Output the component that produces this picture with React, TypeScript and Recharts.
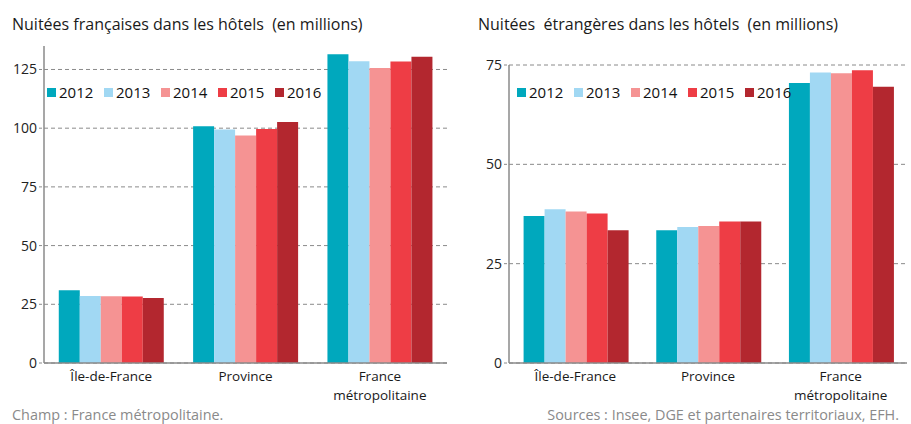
import React from 'react';
import { BarChart, Bar, XAxis, YAxis, CartesianGrid, Legend } from 'recharts';

const categories = ['Île-de-France', 'Province', 'France\nmétropolitaine'];
const years = ['2012', '2013', '2014', '2015', '2016'];
const colors = ['#00A8BD', '#A1D8F3', '#F59393', '#EE3D45', '#B3272F'];

const fr2012 = [31.0, 100.8, 131.5];
const fr2013 = [28.5, 99.4, 128.5];
const fr2014 = [28.4, 96.9, 125.6];
const fr2015 = [28.3, 99.6, 128.4];
const fr2016 = [27.7, 102.6, 130.4];

const et2012 = [37.0, 33.4, 70.5];
const et2013 = [38.7, 34.2, 73.1];
const et2014 = [38.1, 34.5, 72.9];
const et2015 = [37.6, 35.6, 73.7];
const et2016 = [33.4, 35.6, 69.5];

const frTicks = [0, 25, 50, 75, 100, 125];
const etTicks = [0, 25, 50, 75];

const build = (series: number[][]) =>
  categories.map((c, i) => {
    const row: any = { cat: c };
    years.forEach((y, j) => (row[y] = series[j][i]));
    return row;
  });

const frData = build([fr2012, fr2013, fr2014, fr2015, fr2016]);
const etData = build([et2012, et2013, et2014, et2015, et2016]);

const FONT = '"Open Sans", "Noto Sans", sans-serif';

const CatTick = (props: any) => {
  const { x, y, payload } = props;
  const lines = String(payload.value).split('\n');
  return (
    <text x={x} y={y + 10} textAnchor="middle" fontSize={13.5} fill="#1a1a1a" fontFamily={FONT}>
      {lines.map((l, i) => (
        <tspan key={i} x={x} dy={i === 0 ? 0 : 18.5}>
          {l}
        </tspan>
      ))}
    </text>
  );
};

const LegendContent = () => (
  <div style={{ display: 'flex', fontFamily: FONT, fontSize: 15, color: '#111' }}>
    {years.map((y, i) => (
      <div key={y} style={{ display: 'flex', alignItems: 'center', width: 57 }}>
        <div style={{ width: 9, height: 9, background: colors[i], marginRight: 3 }} />
        <span>{y}</span>
      </div>
    ))}
  </div>
);

const Chart = (props: { data: any[]; ticks: number[]; max: number; top: number; yWidth: number; right: number; legendLeft: number; width: number }) => (
  <BarChart
    width={props.width}
    height={424}
    data={props.data}
    margin={{ top: props.top, right: props.right, left: 0, bottom: 21 }}
    barCategoryGap="11%"
    barGap={0}
  >
    <CartesianGrid vertical={false} horizontalValues={props.ticks} stroke="#8a8a8a" strokeDasharray="4 3" />
    <XAxis
      dataKey="cat"
      height={40}
      tick={<CatTick />}
      tickLine={false}
      axisLine={{ stroke: '#8a8a8a', strokeWidth: 1.5 }}
      interval={0}
    />
    <YAxis
      type="number"
      width={props.yWidth}
      domain={[0, props.max]}
      ticks={props.ticks}
      tick={{ fontSize: 14, fill: '#222', fontFamily: FONT }}
      tickLine={{ stroke: '#8a8a8a', strokeDasharray: '3 2' }}
      tickSize={5}
      axisLine={{ stroke: '#8a8a8a', strokeWidth: 1.5 }}
    />
    <Legend
      layout="vertical"
      verticalAlign="middle"
      align="center"
      content={<LegendContent />}
      wrapperStyle={{ position: 'absolute', top: 82, left: props.legendLeft, width: 300 }}
    />
    {years.map((y, i) => (
      <Bar key={y} dataKey={y} fill={colors[i]} isAnimationActive={false} />
    ))}
  </BarChart>
);

export default function App() {
  return (
    <div style={{ position: 'absolute', left: 0, top: 0, width: 911, height: 424, background: '#fff', overflow: 'hidden' }}>
      <div style={{ position: 'absolute', left: 0, top: 0 }}>
        <Chart data={frData} ticks={frTicks} max={135} top={46} yWidth={44} right={8} legendLeft={47} width={455} />
      </div>
      <div style={{ position: 'absolute', left: 455, top: 0 }}>
        <Chart data={etData} ticks={etTicks} max={75} top={65} yWidth={54} right={4} legendLeft={62} width={456} />
      </div>
      <div style={{ position: 'absolute', left: 12, top: 13, fontFamily: FONT, fontSize: 16, color: '#1a1a1a', whiteSpace: 'pre' }}>
        {'Nuitées françaises dans les hôtels  (en millions)'}
      </div>
      <div style={{ position: 'absolute', left: 478, top: 13, fontFamily: FONT, fontSize: 16, color: '#1a1a1a', whiteSpace: 'pre' }}>
        {'Nuitées  étrangères dans les hôtels  (en millions)'}
      </div>
      <div style={{ position: 'absolute', left: 12, top: 405, fontFamily: FONT, fontSize: 14.4, color: '#8a8a8a', whiteSpace: 'pre' }}>
        {'Champ : France métropolitaine.'}
      </div>
      <div style={{ position: 'absolute', right: 12, top: 405, fontFamily: FONT, fontSize: 14.4, color: '#8a8a8a', whiteSpace: 'pre' }}>
        {'Sources : Insee, DGE et partenaires territoriaux, EFH.'}
      </div>
    </div>
  );
}
